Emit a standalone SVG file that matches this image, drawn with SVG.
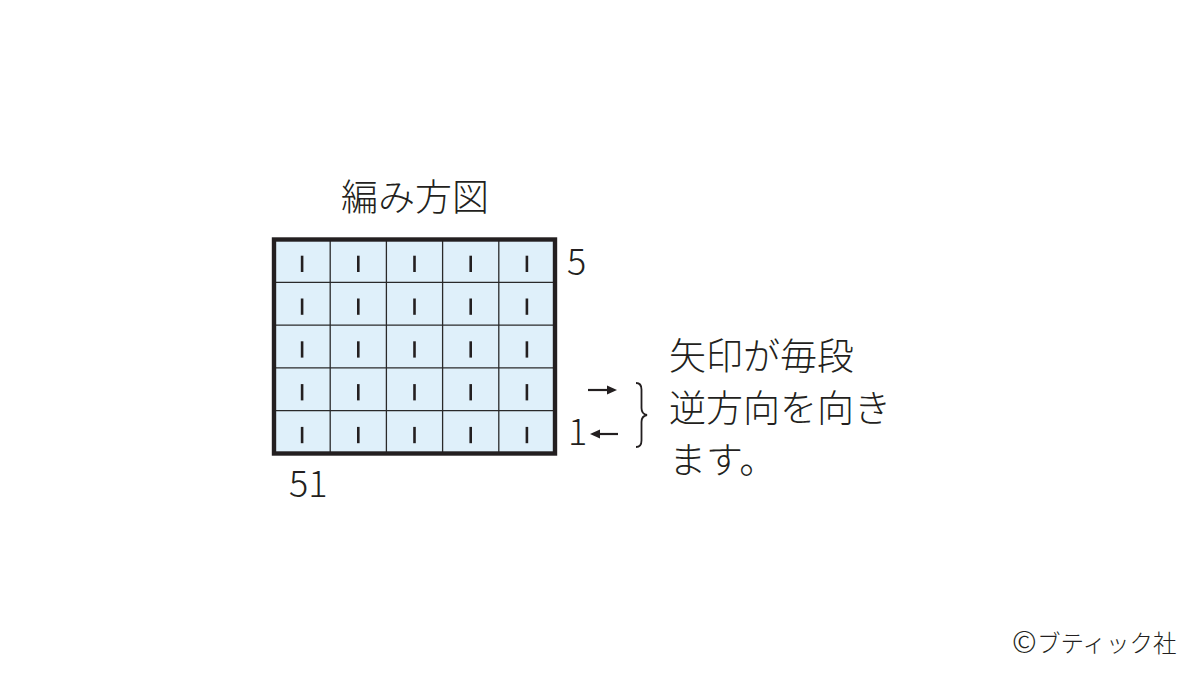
<svg xmlns="http://www.w3.org/2000/svg" width="1200" height="675" viewBox="0 0 1200 675">
  <defs>
    <style>
      .txt { font-family: "Noto Sans CJK JP", "Noto Sans", "Liberation Sans", sans-serif; fill: #231f20; font-weight: 300; }
      .num { font-family: "Noto Sans CJK JP", "Noto Sans", "Liberation Sans", sans-serif; fill: #231f20; font-size: 36px; font-weight: 300; }
      .grid { stroke: #2a2a2a; stroke-width: 1.3; fill: none; }
      .tick { stroke: #231f20; stroke-width: 2.6; stroke-linecap: butt; }
      .arrow { stroke: #231f20; stroke-width: 2.2; fill: none; }
      .head { fill: #231f20; }
    </style>
  </defs>
  <rect width="1200" height="675" fill="#ffffff"/>

  <g id="title">
    <text class="txt" x="341" y="211" font-size="37">編み方図</text>
  </g>

  <g id="chart">
    <rect x="274" y="239.5" width="281" height="214" fill="#dff0fa"/>
    <g class="grid">
      <line x1="330.2" y1="239.5" x2="330.2" y2="453.5"/>
      <line x1="386.4" y1="239.5" x2="386.4" y2="453.5"/>
      <line x1="442.6" y1="239.5" x2="442.6" y2="453.5"/>
      <line x1="498.8" y1="239.5" x2="498.8" y2="453.5"/>
      <line x1="274" y1="282.3" x2="555" y2="282.3"/>
      <line x1="274" y1="325.1" x2="555" y2="325.1"/>
      <line x1="274" y1="367.9" x2="555" y2="367.9"/>
      <line x1="274" y1="410.7" x2="555" y2="410.7"/>
    </g>
    <g class="tick">
      <line x1="302.1" y1="255.7" x2="302.1" y2="272"/>
      <line x1="358.3" y1="255.7" x2="358.3" y2="272"/>
      <line x1="414.5" y1="255.7" x2="414.5" y2="272"/>
      <line x1="470.7" y1="255.7" x2="470.7" y2="272"/>
      <line x1="526.9" y1="255.7" x2="526.9" y2="272"/>

      <line x1="302.1" y1="298.5" x2="302.1" y2="314.8"/>
      <line x1="358.3" y1="298.5" x2="358.3" y2="314.8"/>
      <line x1="414.5" y1="298.5" x2="414.5" y2="314.8"/>
      <line x1="470.7" y1="298.5" x2="470.7" y2="314.8"/>
      <line x1="526.9" y1="298.5" x2="526.9" y2="314.8"/>

      <line x1="302.1" y1="341.3" x2="302.1" y2="357.6"/>
      <line x1="358.3" y1="341.3" x2="358.3" y2="357.6"/>
      <line x1="414.5" y1="341.3" x2="414.5" y2="357.6"/>
      <line x1="470.7" y1="341.3" x2="470.7" y2="357.6"/>
      <line x1="526.9" y1="341.3" x2="526.9" y2="357.6"/>

      <line x1="302.1" y1="384.1" x2="302.1" y2="400.4"/>
      <line x1="358.3" y1="384.1" x2="358.3" y2="400.4"/>
      <line x1="414.5" y1="384.1" x2="414.5" y2="400.4"/>
      <line x1="470.7" y1="384.1" x2="470.7" y2="400.4"/>
      <line x1="526.9" y1="384.1" x2="526.9" y2="400.4"/>

      <line x1="302.1" y1="426.9" x2="302.1" y2="443.2"/>
      <line x1="358.3" y1="426.9" x2="358.3" y2="443.2"/>
      <line x1="414.5" y1="426.9" x2="414.5" y2="443.2"/>
      <line x1="470.7" y1="426.9" x2="470.7" y2="443.2"/>
      <line x1="526.9" y1="426.9" x2="526.9" y2="443.2"/>
    </g>
    <rect x="274" y="239.5" width="281" height="214" fill="none" stroke="#231f20" stroke-width="4.4"/>
  </g>

  <g id="label-row5">
    <text class="num" x="567" y="275">5</text>
  </g>
  <g id="label-row1">
    <text class="num" x="568" y="445">1</text>
  </g>
  <g id="label-stitches">
    <text class="num" x="289" y="497">51</text>
  </g>

  <g id="connectors">
    <line class="arrow" x1="588" y1="390" x2="609" y2="390"/>
    <polygon class="head" points="617,390 607,385.5 607,394.5"/>
    <line class="arrow" x1="598" y1="434" x2="618" y2="434"/>
    <polygon class="head" points="590,434 600,429.5 600,438.5"/>
  </g>

  <g id="brace">
    <path d="M636,383 Q641.5,383 641.5,389.5 L641.5,408 Q641.5,414 647,415 Q641.5,416 641.5,422 L641.5,440.5 Q641.5,447 636,447" fill="none" stroke="#231f20" stroke-width="1.8"/>
  </g>

  <g id="note">
    <text class="txt" x="669" y="370" font-size="37">矢印が毎段</text>
    <text class="txt" x="669" y="422" font-size="37">逆方向を向き</text>
    <text class="txt" x="669" y="474" font-size="37">ます。</text>
  </g>

  <g id="copyright">
    <text class="txt" x="1012" y="653" font-size="30" fill="#333333">©</text>
    <text class="txt" x="1037" y="652" font-size="23.5" fill="#333333">ブティック社</text>
  </g>
</svg>
